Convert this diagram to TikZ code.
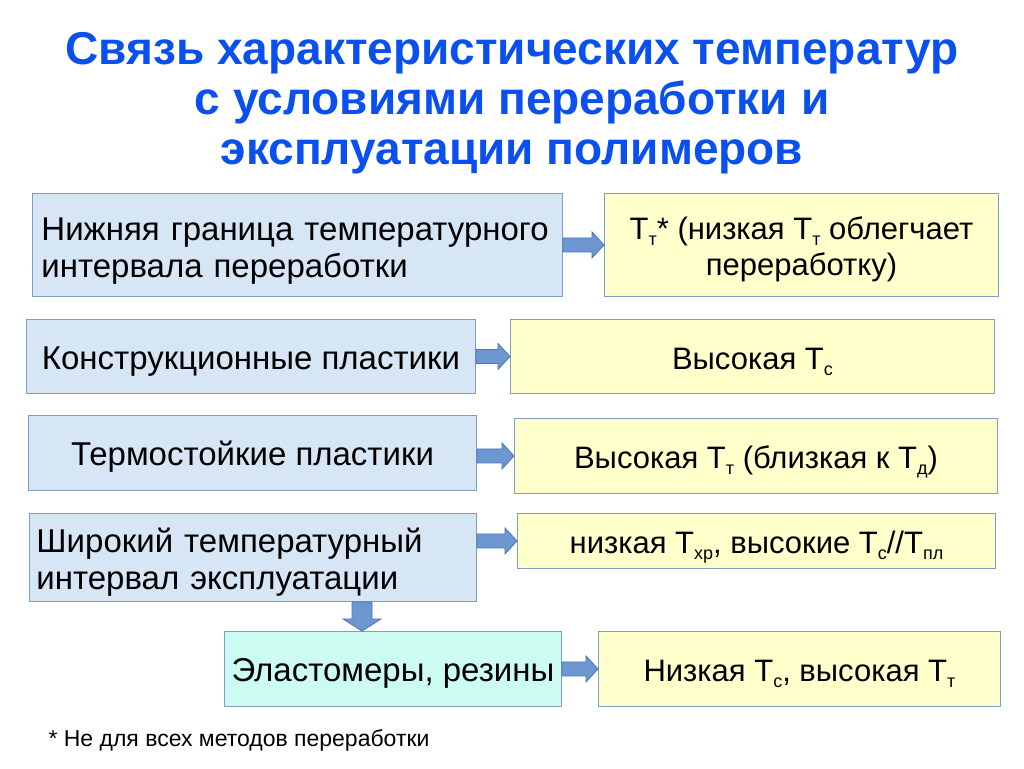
\documentclass[tikz,border=0pt]{standalone}
\usepackage{fontspec}
\setmainfont{Liberation Sans}
\usetikzlibrary{calc}
\definecolor{leftfill}{HTML}{D6E6F4}
\definecolor{yelfill}{HTML}{FFFFCC}
\definecolor{cyanfill}{HTML}{CCFBF2}
\definecolor{boxline}{HTML}{7F9CC4}
\definecolor{arrfill}{HTML}{6D97D0}
\definecolor{arrline}{HTML}{4A76B5}
\definecolor{titleblue}{HTML}{0A50EE}
\newcommand\Tsb[1]{Т\raisebox{-6pt}{\fontsize{18}{18}\selectfont #1}}
\newcommand\dn[1]{\rule{0pt}{#1pt}}
\tikzset{
  box/.style={draw=boxline, line width=0.9pt, anchor=north west, inner sep=0pt,
    font=\fontsize{33}{37}\selectfont},
  lbox/.style={box, fill=leftfill},
  ybox/.style={box, fill=yelfill, align=center, font=\fontsize{31}{36}\selectfont},
  cbox/.style={box, fill=cyanfill, align=center},
  barrow/.style={fill=arrfill, draw=arrline, line width=0.8pt},
}
\newcommand\harrow[2]{%
  \path let \p1=(#1.east), \p2=(#2.west) in
    [barrow] (\x1,\y2+7pt) -- (\x2-12pt,\y2+7pt) -- (\x2-12pt,\y2+13pt) -- (\x2,\y2)
    -- (\x2-12pt,\y2-13pt) -- (\x2-12pt,\y2-7pt) -- (\x1,\y2-7pt) -- cycle;}
\begin{document}
\begin{tikzpicture}[x=1pt,y=-1pt]
\useasboundingbox (0,0) rectangle (1024,768);
% title
\node[align=center, text=titleblue, font=\fontsize{46}{50}\selectfont\bfseries] (title) at (512,103)
  {Связь характеристических температур\\с условиями переработки и\\эксплуатации полимеров};
% row 1
\node[lbox, minimum width=530pt, minimum height=103pt, text width=512pt, align=left] (l1) at (32,193)
  {\dn{35}Нижняя граница температурного\\интервала переработки};
\node[ybox, minimum width=394pt, minimum height=103pt] (r1) at (604,193)
  {\dn{32}\Tsb{т}* (низкая \Tsb{т} облегчает\\переработку)};
% row 2
\node[lbox, minimum width=449pt, minimum height=74pt, align=center] (l2) at (26,319)
  {\dn{32}Конструкционные пластики};
\node[ybox, minimum width=484pt, minimum height=74pt] (r2) at (510,319)
  {\dn{32}Высокая \Tsb{с}};
% row 3
\node[lbox, minimum width=448pt, minimum height=75pt, align=center] (l3) at (28,415)
  {\dn{32}Термостойкие пластики};
\node[ybox, minimum width=483pt, minimum height=75pt] (r3) at (514,418)
  {\dn{35}Высокая \Tsb{т} (близкая к \Tsb{д})};
% row 4
\node[lbox, minimum width=447pt, minimum height=88pt, text width=433pt, align=left] (l4) at (29,513)
  {\dn{34}Широкий температурный\\интервал эксплуатации};
\node[ybox, minimum width=478pt, minimum height=55pt] (r4) at (517,513)
  {\dn{34}низкая \Tsb{хр}, высокие \Tsb{с}//\Tsb{пл}};
% row 5
\node[cbox, minimum width=337pt, minimum height=75pt] (l5) at (224,631)
  {\dn{32}Эластомеры, резины};
\node[ybox, minimum width=402pt, minimum height=75pt] (r5) at (598,631)
  {\dn{31}Низкая \Tsb{с}, высокая \Tsb{т}};
% arrows
\harrow{l1}{r1}
\harrow{l2}{r2}
\harrow{l3}{r3}
\harrow{l4}{r4}
\harrow{l5}{r5}
\path let \p1=(l4.south), \p2=(l5.north) in
  [barrow] (362pt-10pt,\y1) -- (362pt-10pt,\y2+12pt) -- (362pt-19pt,\y2+12pt) -- (362pt,\y2)
  -- (362pt+19pt,\y2+12pt) -- (362pt+10pt,\y2+12pt) -- (362pt+10pt,\y1) -- cycle;
% footnote
\node[anchor=west, font=\fontsize{23}{26}\selectfont] (foot) at (45,740)
  {* Не для всех методов переработки};
\end{tikzpicture}
\end{document}
